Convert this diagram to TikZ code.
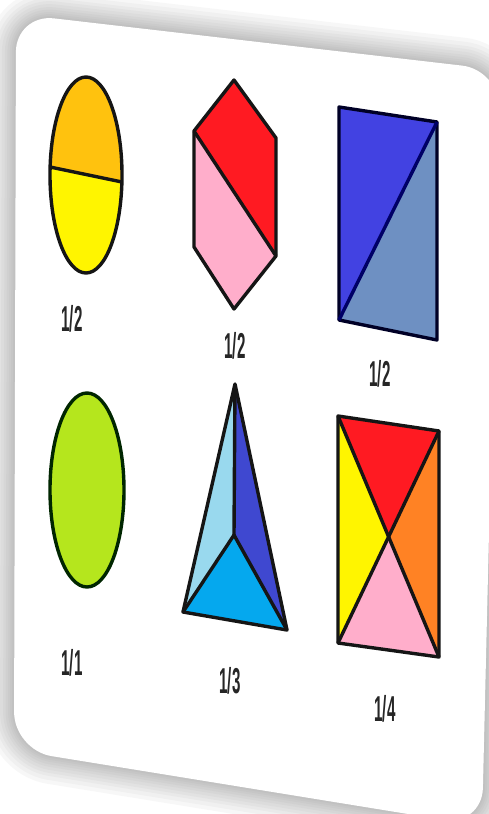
\documentclass[tikz,border=0pt]{standalone}
\usepackage{fontspec}
\setmainfont{Liberation Sans}
\definecolor{cgold}{HTML}{FFC20E}
\definecolor{cyel}{HTML}{FFF500}
\definecolor{cred}{HTML}{FF1A22}
\definecolor{cpink}{HTML}{FFAECB}
\definecolor{cindigo}{HTML}{4242E2}
\definecolor{csteel}{HTML}{6E90C2}
\definecolor{clime}{HTML}{B5E61D}
\definecolor{cltblue}{HTML}{99D9EE}
\definecolor{cmidblue}{HTML}{3F48D0}
\definecolor{cturq}{HTML}{05A8EE}
\definecolor{corange}{HTML}{FF8224}
\definecolor{edge}{HTML}{151515}
\tikzset{
  part/.style={draw=edge, line width=3.4pt, line join=round},
  lbl/.style={font=\bfseries\fontsize{36}{36}\selectfont, text=black!85, xscale=0.42, inner sep=0pt},
}
\begin{document}
\begin{tikzpicture}[x=1pt,y=-1pt]
\useasboundingbox (0,0) rectangle (489,814);
\fill[white] (0,0) rectangle (489,814);
% shadow
\foreach \w in {56,48,40,34,28,22,17,12,8,4}{
  \draw[gray, opacity=0.06, line width=\w pt, rounded corners=38pt]
    (16,14) -- (500,70) -- (482,826) -- (14,750) -- cycle;
}
% card
\fill[white, rounded corners=38pt] (16,14) -- (500,70) -- (482,826) -- (14,750) -- cycle;

% ellipse 1/2
\begin{scope}
  \clip (86,175) ellipse (36 and 98);
  \fill[cgold] (40,60) -- (130,60) -- (130,182) -- (40,166) -- cycle;
  \fill[cyel] (40,166) -- (130,182) -- (130,290) -- (40,290) -- cycle;
\end{scope}
\draw[part] (86,175) ellipse (36 and 98);
\draw[part] (50,167) -- (122,182);

% hexagon
\coordinate (hT) at (234,80);
\coordinate (hUR) at (276,138);
\coordinate (hLR) at (276,256);
\coordinate (hB) at (234,309);
\coordinate (hLL) at (194,247);
\coordinate (hUL) at (194,131);
\fill[cred] (hUL) -- (hT) -- (hUR) -- (hLR) -- cycle;
\fill[cpink] (hUL) -- (hLR) -- (hB) -- (hLL) -- cycle;
\draw[part] (hT) -- (hUR) -- (hLR) -- (hB) -- (hLL) -- (hUL) -- cycle;
\draw[part] (hUL) -- (hLR);

% rectangle halves
\coordinate (rTL) at (339,107);
\coordinate (rTR) at (437,122);
\coordinate (rBR) at (437,340);
\coordinate (rBL) at (339,320);
\fill[cindigo] (rTL) -- (rTR) -- (rBL) -- cycle;
\fill[csteel] (rTR) -- (rBR) -- (rBL) -- cycle;
\draw[part, draw=black!85!blue] (rTL) -- (rTR) -- (rBR) -- (rBL) -- cycle;
\draw[part, draw=black!60!blue] (rTR) -- (rBL);

% ellipse whole
\fill[clime] (87,490) ellipse (37 and 97);
\draw[part, draw=black!85!green] (87,490) ellipse (37 and 97);

% triangle thirds
\coordinate (tA) at (235,384);
\coordinate (tL) at (183,612);
\coordinate (tR) at (287,630);
\coordinate (tM) at (234,535);
\fill[cltblue] (tA) -- (tL) -- (tM) -- cycle;
\fill[cmidblue] (tA) -- (tM) -- (tR) -- cycle;
\fill[cturq] (tL) -- (tM) -- (tR) -- cycle;
\draw[part] (tA) -- (tL) -- (tR) -- cycle;
\draw[part] (tL) -- (tM) -- (tR);
\draw[part] (tA) -- (tM);

% rectangle quarters
\coordinate (qTL) at (338,416);
\coordinate (qTR) at (439,431);
\coordinate (qBR) at (439,657);
\coordinate (qBL) at (338,643);
\coordinate (qC) at (388,535);
\fill[cred] (qTL) -- (qTR) -- (qC) -- cycle;
\fill[corange] (qTR) -- (qBR) -- (qC) -- cycle;
\fill[cpink] (qBR) -- (qBL) -- (qC) -- cycle;
\fill[cyel] (qBL) -- (qTL) -- (qC) -- cycle;
\draw[part] (qTL) -- (qTR) -- (qBR) -- (qBL) -- cycle;
\draw[part] (qTL) -- (qBR);
\draw[part] (qTR) -- (qBL);

% labels
\node[lbl] (l1) at (72,319) {1/2};
\node[lbl] (l2) at (235,346) {1/2};
\node[lbl] (l3) at (380,374) {1/2};
\node[lbl] (l4) at (72,663) {1/1};
\node[lbl] (l5) at (230,681) {1/3};
\node[lbl] (l6) at (385,709) {1/4};
\end{tikzpicture}
\end{document}
